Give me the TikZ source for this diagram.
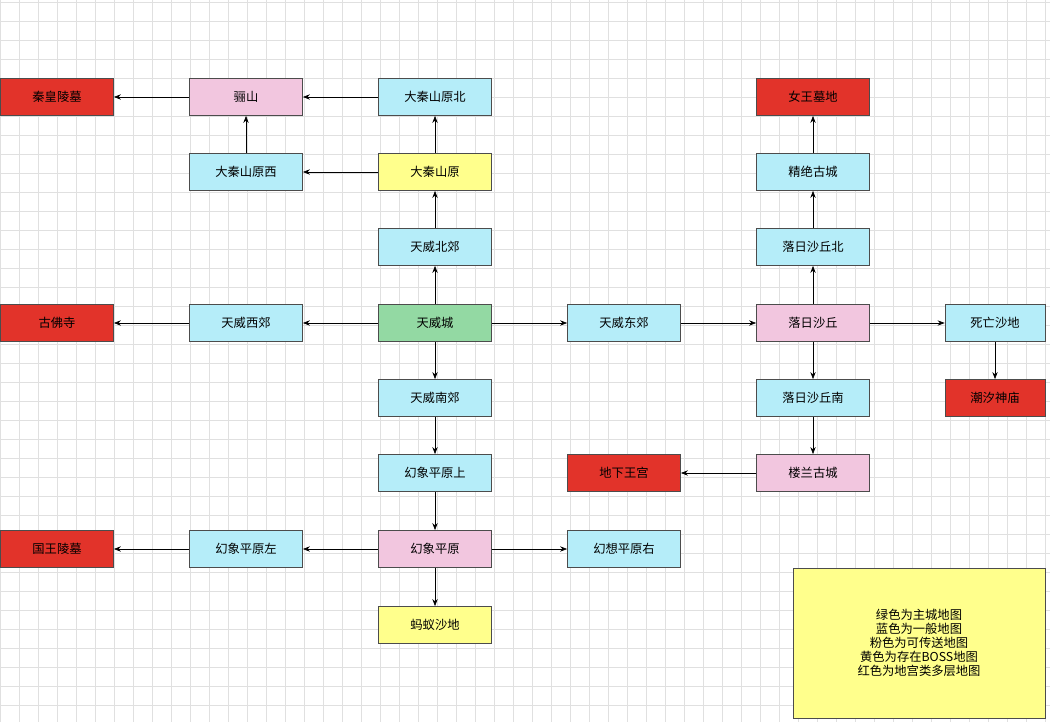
\documentclass[tikz,border=0pt]{standalone}
\usepackage{fontspec}
\setmainfont{Noto Sans CJK SC}
\usetikzlibrary{arrows.meta}
\definecolor{mapred}{HTML}{E2332A}
\definecolor{mappink}{HTML}{F2C6DF}
\definecolor{mapblue}{HTML}{B5EDF9}
\definecolor{mapyellow}{HTML}{FFFF8C}
\definecolor{mapgreen}{HTML}{93D9A3}
\tikzset{
	mapbox/.style={draw=black!70, minimum width=2.26cm, minimum height=0.74cm, font=\scriptsize, inner sep=1pt},
	red/.style={mapbox, fill=mapred},
	pink/.style={mapbox, fill=mappink},
	blue/.style={mapbox, fill=mapblue},
	yellow/.style={mapbox, fill=mapyellow},
	green/.style={mapbox, fill=mapgreen},
	narrow/.style={minimum width=2cm},
	link/.style={-{Stealth[length=4pt,width=3pt]}, black}
}
\begin{document}
\begin{tikzpicture}[x=0.02cm, y=-0.02cm]
		\useasboundingbox (0,0) rectangle (1050,722);
		\foreach \gx in {0,19,...,1050} \draw[black!12] (\gx,0) -- (\gx,722);
		\foreach \gy in {2,21,...,722} \draw[black!12] (0,\gy) -- (1050,\gy);

		% top rows
		\node[red] (qinling) at (57,97) {秦皇陵墓};
		\node[pink] (lishan) at (246,97) {骊山};
		\node[blue] (daqinbei) at (435,97) {大秦山原北};
		\node[red] (nvwang) at (813,97) {女王墓地};
		\node[blue] (daqinxi) at (246,172) {大秦山原西};
		\node[yellow] (daqin) at (435,172) {大秦山原};
		\node[blue] (jingjue) at (813,172) {精绝古城};
		\node[blue] (beijiao) at (435,247) {天威北郊};
		\node[blue] (luoribei) at (813,247) {落日沙丘北};

		% middle row
		\node[red] (gufo) at (57,323) {古佛寺};
		\node[blue] (xijiao) at (246,323) {天威西郊};
		\node[green] (tianwei) at (435,323) {天威城};
		\node[blue] (dongjiao) at (624,323) {天威东郊};
		\node[pink] (luori) at (813,323) {落日沙丘};
		\node[blue, narrow] (siwang) at (995,323) {死亡沙地};

		% lower rows
		\node[blue] (nanjiao) at (435,398) {天威南郊};
		\node[blue] (luorinan) at (813,398) {落日沙丘南};
		\node[red, narrow] (chaoxi) at (995,398) {潮汐神庙};
		\node[blue] (huanshang) at (435,473) {幻象平原上};
		\node[red] (dixia) at (624,473) {地下王宫};
		\node[pink] (loulan) at (813,473) {楼兰古城};
		\node[red] (guowang) at (57,549) {国王陵墓};
		\node[blue] (huanzuo) at (246,549) {幻象平原左};
		\node[pink] (huanxiang) at (435,549) {幻象平原};
		\node[blue] (huanyou) at (624,549) {幻想平原右};
		\node[yellow] (mayi) at (435,625) {蚂蚁沙地};

		\node[draw=black!70, fill=mapyellow, minimum width=5.04cm, minimum height=3cm,
			font=\scriptsize, align=center] (legend) at (919,643)
			{绿色为主城地图\\蓝色为一般地图\\粉色为可传送地图\\黄色为存在BOSS地图\\红色为地宫类多层地图};

		\draw[link] (lishan) -- (qinling);
		\draw[link] (daqinbei) -- (lishan);
		\draw[link] (daqinxi) -- (lishan);
		\draw[link] (daqin) -- (daqinxi);
		\draw[link] (daqin) -- (daqinbei);
		\draw[link] (beijiao) -- (daqin);
		\draw[link] (tianwei) -- (beijiao);
		\draw[link] (tianwei) -- (xijiao);
		\draw[link] (xijiao) -- (gufo);
		\draw[link] (tianwei) -- (dongjiao);
		\draw[link] (dongjiao) -- (luori);
		\draw[link] (luori) -- (luoribei);
		\draw[link] (luoribei) -- (jingjue);
		\draw[link] (jingjue) -- (nvwang);
		\draw[link] (luori) -- (siwang);
		\draw[link] (siwang) -- (chaoxi);
		\draw[link] (luori) -- (luorinan);
		\draw[link] (luorinan) -- (loulan);
		\draw[link] (loulan) -- (dixia);
		\draw[link] (tianwei) -- (nanjiao);
		\draw[link] (nanjiao) -- (huanshang);
		\draw[link] (huanshang) -- (huanxiang);
		\draw[link] (huanxiang) -- (huanzuo);
		\draw[link] (huanzuo) -- (guowang);
		\draw[link] (huanxiang) -- (huanyou);
		\draw[link] (huanxiang) -- (mayi);
\end{tikzpicture}
\end{document}
